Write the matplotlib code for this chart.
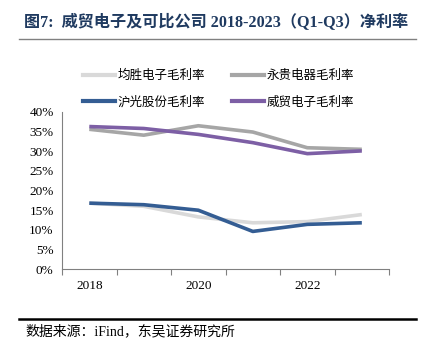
import matplotlib.pyplot as plt
from matplotlib.lines import Line2D

plt.rcParams['font.family'] = ['Liberation Serif', 'Noto Sans CJK SC', 'DejaVu Sans']

years = ['2018', '2019', '2020', '2021', '2022', '2023']
junsheng = [16.8, 16.0, 13.3, 11.8, 12.1, 13.9]
yonggui = [35.6, 34.1, 36.5, 34.9, 30.9, 30.5]
hugong = [16.8, 16.4, 15.0, 9.6, 11.4, 11.8]
weimao = [36.3, 35.8, 34.3, 32.2, 29.4, 30.1]
names = ['均胜电子毛利率', '永贵电器毛利率', '沪光股份毛利率', '威贸电子毛利率']
colors = ['#d9d9d9', '#a6a6a6', '#345d93', '#7d5fa5']

fig = plt.figure(figsize=(4.22, 3.5), dpi=100)
ax = fig.add_axes([0.147, 0.231, 0.775, 0.449])

x = list(range(len(years)))
for ys, c in zip([junsheng, yonggui, hugong, weimao], colors):
    ax.plot(x, ys, color=c, lw=2.6, solid_capstyle='butt')

ax.set_xlim(-0.5, 5.5)
ax.set_ylim(0, 40)
ax.set_yticks(range(0, 41, 5))
ax.set_yticklabels([f'{v}%' for v in range(0, 41, 5)], fontsize=9.5)
ax.tick_params(axis='y', length=0, pad=6)
ax.set_xticks([i - 0.5 for i in range(7)])
ax.set_xticklabels([])
ax.tick_params(axis='x', length=4, color='#808080', direction='out')
ax.set_xticks([0, 2, 4], minor=True)
ax.set_xticklabels(['2018', '2020', '2022'], minor=True, fontsize=9.5)
ax.tick_params(axis='x', which='minor', length=0, pad=8)
for s in ['top', 'right']:
    ax.spines[s].set_visible(False)
ax.spines['left'].set_color('#808080')
ax.spines['bottom'].set_color('#808080')

# legend fills column-wise: reorder so rows read 均胜/永贵, 沪光/威贸
order = [0, 2, 1, 3]
handles = [Line2D([], [], color=colors[i], lw=3) for i in order]
labels = [names[i] for i in order]
fig.legend(handles, labels, loc='upper left', bbox_to_anchor=(0.17, 0.835), ncol=2,
           frameon=False, handlelength=2.6, handletextpad=0.2,
           columnspacing=2.1, labelspacing=1.1,
           prop={'family': ['Noto Sans CJK SC'], 'size': 9})

fig.text(0.058, 0.935, '图7:  威贸电子及可比公司 2018-2023（Q1-Q3）净利率',
         fontsize=11.6, fontweight='bold', color='#1f3a60', va='center')
fig.add_artist(Line2D([0.045, 0.985], [0.888, 0.888], color='#808080', lw=1))
fig.add_artist(Line2D([0.045, 0.985], [0.09, 0.09], color='black', lw=1.8))
fig.text(0.06, 0.052, '数据来源：iFind，东吴证券研究所', fontsize=10, va='center')

fig.savefig('out.png', dpi=100)
